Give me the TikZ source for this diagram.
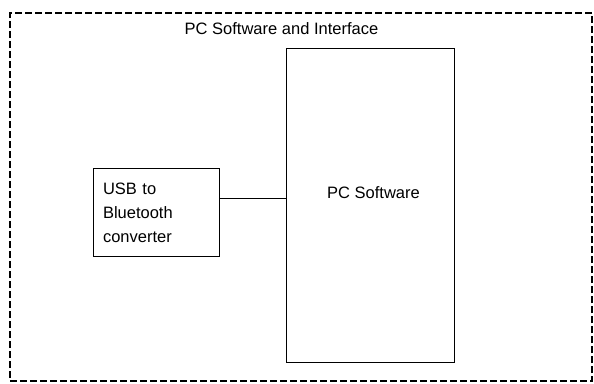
\documentclass[tikz,border=0pt]{standalone}
\usepackage{fontspec}
\setmainfont{Liberation Sans}
\usetikzlibrary{positioning}

\begin{document}
\begin{tikzpicture}[
    x=1pt, y=1pt,
    font=\fontsize{16.5}{24}\selectfont,
    frame/.style={rectangle, draw, dashed, line width=2pt,
        dash pattern=on 7pt off 3pt},
    block/.style={rectangle, draw, line width=1pt, inner sep=0pt},
    link/.style={draw, line width=1pt}
]
\useasboundingbox (0,0) rectangle (594,383);

% Outer frame
\node[frame, minimum width=582pt, minimum height=368pt] (frame) at (301,186) {};
\node[anchor=base] (title) at (281.5,348) {PC Software and Interface};

% PC software block
\node[block, minimum width=168pt, minimum height=313pt] (pc) at (370,177.5) {};
\node[anchor=base] (pctext) at (373.5,184) {PC Software};

% Converter
\node[block, minimum width=126pt, minimum height=88pt, text width=106pt,
      inner xsep=10pt, align=left] (usb) at (156,170)
      {USB to\\Bluetooth\\converter};

% Connection
\coordinate (usbout) at ([yshift=14pt]usb.east);
\draw[link] (usbout) -- (usbout -| pc.west);

\end{tikzpicture}
\end{document}
